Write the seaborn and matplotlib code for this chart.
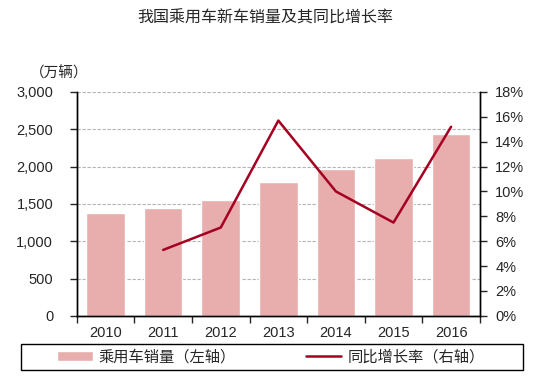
import numpy as np
import pandas as pd
import matplotlib
matplotlib.use('Agg')
import matplotlib.pyplot as plt
import seaborn as sns
from matplotlib.ticker import FuncFormatter, MultipleLocator
from matplotlib.patches import Rectangle

# data
years = ['2010', '2011', '2012', '2013', '2014', '2015', '2016']
sales = [1376, 1447, 1550, 1793, 1970, 2115, 2438]
growth_years = ['2011', '2012', '2013', '2014', '2015', '2016']
growth = [5.3, 7.1, 15.7, 10.0, 7.5, 15.2]

bar_color = '#e8adad'
line_color = '#a50021'
cjk = ['Noto Sans CJK SC', 'DejaVu Sans']

sns.set_style('white')
plt.rcParams['font.family'] = ['Liberation Sans', 'Noto Sans CJK SC', 'DejaVu Sans']

fig = plt.figure(figsize=(5.41, 3.88), dpi=100)
ax = fig.add_axes([0.142, 0.186, 0.745, 0.577])

df = pd.DataFrame({'year': years, 'sales': sales})
sns.barplot(data=df, x='year', y='sales', color=bar_color, width=0.67,
            saturation=1, ax=ax, label='乘用车销量（左轴）')
ax.set_ylim(0, 3000)
ax.yaxis.set_major_locator(MultipleLocator(500))
ax.yaxis.set_major_formatter(FuncFormatter(lambda v, p: f'{int(v):,}'))
ax.set_xlim(-0.5, len(years) - 0.5)
ax.set_xlabel('')
ax.set_ylabel('')
ax.grid(axis='y', color='#b4b4b4', linestyle=(0, (3, 1.5)), linewidth=0.8)
ax.set_axisbelow(True)

ax2 = ax.twinx()
gdf = pd.DataFrame({'pos': [years.index(y) for y in growth_years], 'growth': growth})
sns.lineplot(data=gdf, x='pos', y='growth', color=line_color, linewidth=1.8,
             ax=ax2, label='同比增长率（右轴）', legend=False)
ax2.set_ylim(0, 18)
ax2.yaxis.set_major_locator(MultipleLocator(2))
ax2.yaxis.set_major_formatter(FuncFormatter(lambda v, p: f'{int(v)}%'))
ax2.set_ylabel('')
ax2.set_xlim(-0.5, len(years) - 0.5)

for a in (ax, ax2):
    a.spines['top'].set_visible(False)
    for s in ('left', 'right', 'bottom'):
        a.spines[s].set_color('black')
        a.spines[s].set_linewidth(1.0)

ax.tick_params(axis='y', direction='out', length=5, width=1, left=True,
               labelsize=10.5, pad=12)
ax2.tick_params(axis='y', direction='out', length=5, width=1, right=True,
                labelsize=10.5, pad=6)
ax.tick_params(axis='x', which='major', length=0, labelsize=10.5, pad=7)
ax.set_xticks(np.arange(-0.5, len(years), 1), minor=True)
ax.tick_params(axis='x', which='minor', direction='out', length=5, width=1, bottom=True)

fig.text(0.49, 0.954, '我国乘用车新车销量及其同比增长率', ha='center', va='center',
         fontsize=11.5, family=cjk)
fig.text(0.055, 0.81, '（万辆）', ha='left', va='center', fontsize=10.5, family=cjk)

h1, l1 = ax.get_legend_handles_labels()
h2, l2 = ax2.get_legend_handles_labels()
if ax.get_legend() is not None:
    ax.get_legend().remove()
leg = fig.legend(h1 + h2, l1 + l2, loc='center', ncol=2,
                 bbox_to_anchor=(0.501, 0.08), frameon=False,
                 handlelength=2.3, columnspacing=4.6, handletextpad=0.4,
                 borderpad=0.2, prop={'family': cjk, 'size': 11})
fig.patches.append(Rectangle((0.039, 0.046), 0.928, 0.067, transform=fig.transFigure,
                             fill=False, edgecolor='black', linewidth=1.0))

fig.savefig('out.png', dpi=100)
